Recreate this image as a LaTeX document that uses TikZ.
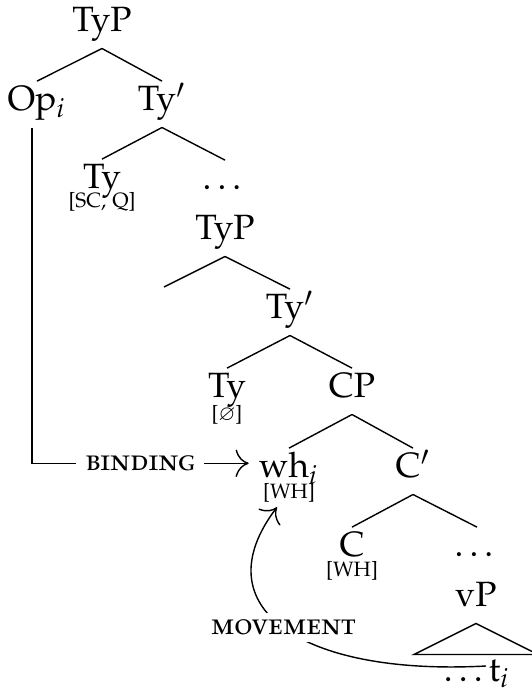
\documentclass[tikz,border=0pt]{standalone}
\usepackage[T1]{fontenc}
\usepackage[sc]{mathpazo}
\usepackage{amssymb}
\usetikzlibrary{arrows.meta}

\tikzset{
  cat/.style={anchor=base, font=\fontsize{10}{12}\selectfont,
    text height=6.3pt, text depth=2.5pt, inner xsep=2.8pt, inner ysep=2pt},
  feat/.style={anchor=base, font=\fontsize{5.9}{7}\selectfont, inner sep=1pt},
  rel/.style={font=\fontsize{8.5}{10}\selectfont\scshape, fill=white,
    inner xsep=2.6pt, inner ysep=2pt},
}

\begin{document}
\begin{tikzpicture}[>={To[scale=1.5]}]
\useasboundingbox (0,0) rectangle (5.32,6.93);

% Upper TyP
\node[cat] (typ1) at (1.02,6.61) {TyP};
\node[cat] (op) at (0.37,5.82) {Op$_i$};
\node[cat] (ty1p) at (1.62,5.82) {Ty$'$};
\draw (typ1.south) -- (op.north);
\draw (typ1.south) -- (ty1p.north);

\node[cat] (ty1) at (1.02,5.04) {Ty};
\node[feat] (ty1f) at ([yshift=-0.19cm]ty1.base) {[SC, Q]};
\node[cat] (dots1) at (2.25,5.03) {\dots};
\draw (ty1p.south) -- (ty1.north);
\draw (ty1p.south) -- (dots1.north);

% Lower TyP
\node[cat] (typ2) at (2.25,4.53) {TyP};
\coordinate (e1) at (1.64,4.06);
\node[cat] (ty2p) at (2.90,3.74) {Ty$'$};
\draw (typ2.south) -- (e1);
\draw (typ2.south) -- (ty2p.north);

\node[cat] (ty2) at (2.27,2.95) {Ty};
\node[feat] (ty2f) at ([yshift=-0.23cm]ty2.base) {[$\varnothing$]};
\node[cat] (cp) at (3.52,2.95) {CP};
\draw (ty2p.south) -- (ty2.north);
\draw (ty2p.south) -- (cp.north);

% CP
\node[cat] (wh) at (2.89,2.15) {wh$_i$};
\node[feat] (whf) at ([yshift=-0.21cm]wh.base) {[WH]};
\node[cat] (c1p) at (4.13,2.15) {C$'$};
\draw (cp.south) -- (wh.north);
\draw (cp.south) -- (c1p.north);

\node[cat] (c) at (3.52,1.36) {C};
\node[feat] (cf) at ([yshift=-0.2cm]c.base) {[WH]};
\node[cat] (dots2) at (4.77,1.36) {\dots};
\draw (c1p.south) -- (c.north);
\draw (c1p.south) -- (dots2.north);

% vP
\node[cat] (vp) at (4.76,0.86) {vP};
\draw (vp.south) -- ++(-0.62,-0.31) -- ++(1.24,0) -- cycle;
\node[cat] (ti) at (4.77,0.12) {\dots t$_i$};
\coordinate (tstart) at ([xshift=0.09cm,yshift=0.15cm]ti.base);

% Binding
\draw[->] ([xshift=-0.05cm]op.south) |- node[rel, pos=0.75] {binding}
  ([yshift=0.08cm]wh.west);

% Movement
\draw[->] (tstart) .. controls +(-1.85,-0.10) and +(-0.76,-1.0)
  .. ([xshift=-0.12cm]whf.south) node[rel, pos=0.5] {movement};

\end{tikzpicture}
\end{document}
